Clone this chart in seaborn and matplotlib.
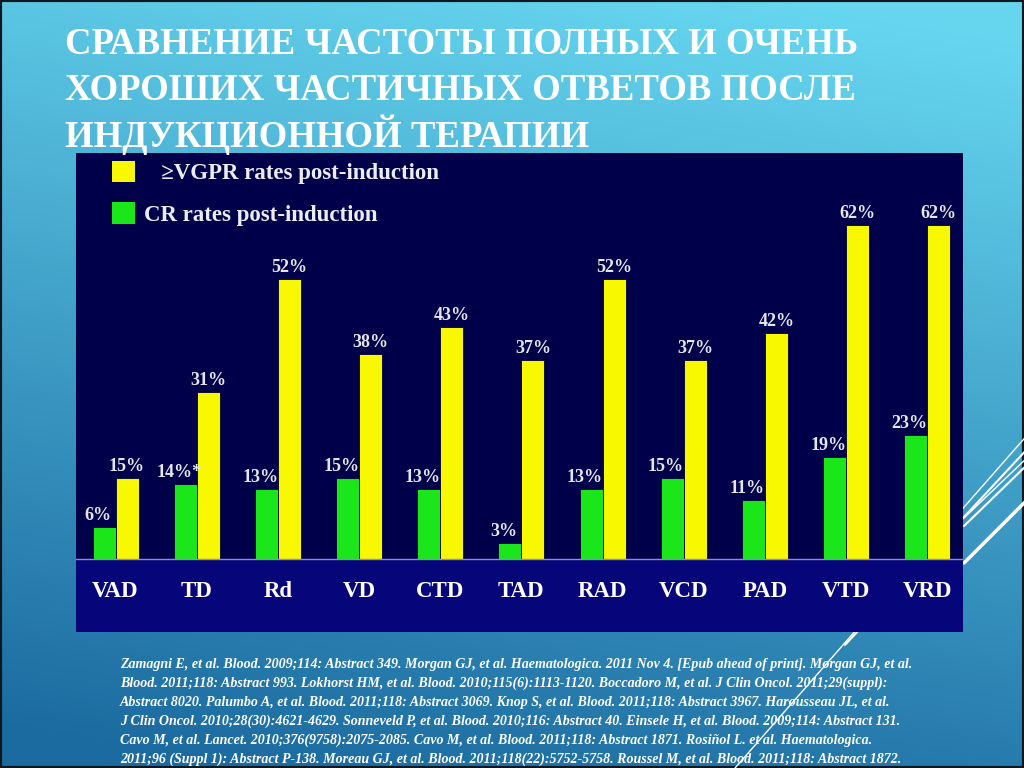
import numpy as np
import pandas as pd
import matplotlib.pyplot as plt
import seaborn as sns
from matplotlib.patches import Patch, Rectangle

# данные с графика
regimens = ['VAD', 'TD', 'Rd', 'VD', 'CTD', 'TAD', 'RAD', 'VCD', 'PAD', 'VTD', 'VRD']
cr_rates = [6, 14, 13, 15, 13, 3, 13, 15, 11, 19, 23]
vgpr_rates = [15, 31, 52, 38, 43, 37, 52, 37, 42, 62, 62]
cr_labels = ['6%', '14%*', '13%', '15%', '13%', '3%', '13%', '15%', '11%', '19%', '23%']
vgpr_labels = [str(v) + '%' for v in vgpr_rates]
legend_labels = ['   \u2265VGPR rates post-induction', 'CR rates post-induction']

title_lines = [
    'СРАВНЕНИЕ ЧАСТОТЫ ПОЛНЫХ И ОЧЕНЬ',
    'ХОРОШИХ ЧАСТИЧНЫХ ОТВЕТОВ ПОСЛЕ',
    'ИНДУКЦИОННОЙ ТЕРАПИИ',
]
refs = [
    'Zamagni E, et al. Blood. 2009;114: Abstract 349. Morgan GJ, et al. Haematologica. 2011 Nov 4. [Epub ahead of print]. Morgan GJ, et al.',
    'Blood. 2011;118: Abstract 993. Lokhorst HM, et al. Blood. 2010;115(6):1113-1120. Boccadoro M, et al. J Clin Oncol. 2011;29(suppl):',
    'Abstract 8020. Palumbo A, et al. Blood. 2011;118: Abstract 3069. Knop S, et al. Blood. 2011;118: Abstract 3967. Harousseau JL, et al.',
    'J Clin Oncol. 2010;28(30):4621-4629. Sonneveld P, et al. Blood. 2010;116: Abstract 40. Einsele H, et al. Blood. 2009;114: Abstract 131.',
    'Cavo M, et al. Lancet. 2010;376(9758):2075-2085. Cavo M, et al. Blood. 2011;118: Abstract 1871. Rosiñol L. et al. Haematologica.',
    '2011;96 (Suppl 1): Abstract P-138. Moreau GJ, et al. Blood. 2011;118(22):5752-5758. Roussel M, et al. Blood. 2011;118: Abstract 1872.',
]

sns.set_theme(style='white')
plt.rcParams['font.family'] = ['Liberation Serif', 'DejaVu Serif']

df = pd.DataFrame({
    'regimen': regimens * 2,
    'series': ['CR'] * len(regimens) + ['VGPR'] * len(regimens),
    'rate': cr_rates + vgpr_rates,
})

fig = plt.figure(figsize=(10.24, 7.68), dpi=100)

# фон слайда: градиент + декоративные линии
bg = fig.add_axes([0, 0, 1, 1])
yy, xx = np.mgrid[0:1:384j, 0:1:512j]
t = np.clip(0.9 * yy + 0.2 * (1 - xx) - 0.05, 0, 1)
top = np.array([0.40, 0.84, 0.94])
bottom = np.array([0.11, 0.42, 0.63])
bg.imshow(top + (bottom - top) * t[..., None], extent=[0, 1024, 768, 0], aspect='auto')
for x0, y0, x1, y1, lw in [(1030, 432, 735, 768, 1.0), (1030, 446, 845, 645, 1.5),
                           (1030, 455, 964, 518, 1.0), (1030, 462, 964, 526, 1.5),
                           (1030, 497, 964, 563, 2.5)]:
    bg.plot([x0, x1], [y0, y1], color='white', lw=lw)
bg.add_patch(Rectangle((0, 0), 1024, 768, fill=False, ec='#0c1820', lw=3))
bg.set_xlim(0, 1024)
bg.set_ylim(768, 0)
bg.axis('off')

# панель с диаграммой
ax = fig.add_axes([76 / 1024, 1 - 632 / 768, 887 / 1024, 479 / 768])
ax.set_facecolor('#00004a')
ax.axhspan(-20, 0, color='#06067a', zorder=0)
sns.barplot(data=df, x='regimen', y='rate', hue='series', hue_order=['CR', 'VGPR'],
            palette={'CR': '#1ae61a', 'VGPR': '#f8f800'}, saturation=1,
            width=0.567, edgecolor='#000030', linewidth=0.6, legend=False, ax=ax)
ax.axhline(0, color='#8c8cc8', lw=1)

for ann in ax.bar_label(ax.containers[0], labels=cr_labels, padding=2,
                        fontsize=13, fontweight='bold', color='#e6e6ee'):
    ann.xyann = (-4.5, 2)
ax.bar_label(ax.containers[1], labels=vgpr_labels, padding=2,
             fontsize=13, fontweight='bold', color='#e6e6ee')

ax.set_xlim(-0.487, 10.44)
ax.set_ylim(-13.54, 75.3)
ax.set_xlabel('')
ax.set_ylabel('')
ax.set_yticks([])
ax.tick_params(axis='x', length=0, pad=-29.5, labelsize=16.5, labelcolor='white')
plt.setp(ax.get_xticklabels(), va='center', fontweight='bold')
for s in ax.spines.values():
    s.set_visible(False)

handles = [Patch(fc='#f8f800', ec='none'), Patch(fc='#1ae61a', ec='none')]
ax.legend(handles, legend_labels, loc='upper left',
          bbox_to_anchor=(112 / 1024, 1 - 161 / 768), bbox_transform=fig.transFigure,
          frameon=False, prop={'weight': 'bold', 'size': 16.5}, labelcolor='#ececf4',
          handlelength=1.0, handleheight=1.05, handletextpad=0.4,
          labelspacing=0.78, borderpad=0, borderaxespad=0)

# заголовок
for i, line in enumerate(title_lines):
    fig.text(65 / 1024, 1 - (54 + 46.5 * i) / 768, line, ha='left', va='baseline',
             fontsize=26.5, fontweight='bold', color='white')

# источники
for i, line in enumerate(refs):
    fig.text(120 / 1024, 1 - (668 + 19 * i) / 768, line, ha='left', va='baseline',
             fontsize=10.1, fontweight='bold', fontstyle='italic', color='white')

fig.savefig('out.png', dpi=100)
